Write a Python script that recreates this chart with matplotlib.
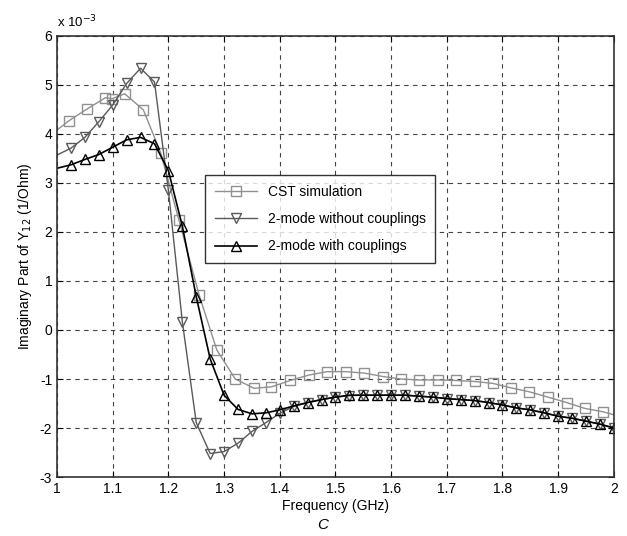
import numpy as np
import matplotlib
matplotlib.use("Agg")
import matplotlib.pyplot as plt

plt.rcParams['font.family'] = ['Liberation Sans', 'DejaVu Sans']
plt.rcParams['axes.unicode_minus'] = False

# CST simulation (non-uniform frequency points)
cst_f = [1.0, 1.0215, 1.054, 1.087, 1.099, 1.1215, 1.155, 1.186, 1.219, 1.255,
         1.287, 1.320, 1.354, 1.385, 1.419, 1.452, 1.485, 1.519, 1.552, 1.586,
         1.618, 1.650, 1.685, 1.716, 1.750, 1.783, 1.815, 1.848, 1.882, 1.915,
         1.948, 1.981, 2.0]
cst_y = [4.08, 4.27, 4.51, 4.74, 4.72, 4.82, 4.49, 3.62, 2.24, 0.72,
         -0.41, -1.00, -1.19, -1.16, -1.03, -0.92, -0.85, -0.85, -0.88, -0.95,
         -1.00, -1.02, -1.02, -1.03, -1.05, -1.09, -1.18, -1.26, -1.37, -1.48,
         -1.60, -1.67, -1.73]

# 2-mode models, 0.025 GHz steps from 1.0 to 2.0
mode_f = [1.0, 1.025, 1.05, 1.075, 1.1, 1.125, 1.15, 1.175, 1.2, 1.225,
          1.25, 1.275, 1.3, 1.325, 1.35, 1.375, 1.4, 1.425, 1.45, 1.475,
          1.5, 1.525, 1.55, 1.575, 1.6, 1.625, 1.65, 1.675, 1.7, 1.725,
          1.75, 1.775, 1.8, 1.825, 1.85, 1.875, 1.9, 1.925, 1.95, 1.975, 2.0]
no_coup = [3.57, 3.71, 3.93, 4.25, 4.59, 5.03, 5.34, 5.06, 2.85, 0.17,
           -1.89, -2.52, -2.48, -2.31, -2.07, -1.89, -1.70, -1.56, -1.48, -1.42,
           -1.37, -1.34, -1.33, -1.33, -1.33, -1.33, -1.35, -1.37, -1.40, -1.42,
           -1.44, -1.48, -1.53, -1.59, -1.63, -1.69, -1.76, -1.80, -1.86, -1.92, -2.00]
with_coup = [3.30, 3.37, 3.48, 3.58, 3.73, 3.88, 3.93, 3.80, 3.25, 2.12,
             0.68, -0.59, -1.33, -1.62, -1.71, -1.69, -1.63, -1.55, -1.48, -1.42,
             -1.37, -1.33, -1.33, -1.33, -1.33, -1.33, -1.35, -1.37, -1.40, -1.42,
             -1.44, -1.48, -1.53, -1.59, -1.63, -1.69, -1.76, -1.80, -1.86, -1.92, -2.00]

fig = plt.figure(figsize=(6.27, 5.36), dpi=100)
ax = fig.add_axes([0.091, 0.110, 0.888, 0.823])

ax.plot(cst_f, cst_y, color='#909090', lw=1.0, marker='s', ms=6.5,
        mfc='none', mec='#909090', mew=1.0, markevery=slice(1, -1),
        label='CST simulation')
ax.plot(mode_f, no_coup, color='#5a5a5a', lw=1.0, marker='v', ms=7,
        mfc='none', mec='#5a5a5a', mew=1.0, markevery=slice(1, None),
        label='2-mode without couplings')
ax.plot(mode_f, with_coup, color='black', lw=1.2, marker='^', ms=7,
        mfc='none', mec='black', mew=1.0, markevery=slice(1, None),
        label='2-mode with couplings')

ax.set_xlim(1, 2)
ax.set_ylim(-3, 6)
ax.set_xticks(np.arange(1, 2.01, 0.1))
ax.set_xticklabels(['1', '1.1', '1.2', '1.3', '1.4', '1.5', '1.6', '1.7', '1.8', '1.9', '2'])
ax.set_yticks(range(-3, 7))
ax.grid(True, linestyle=(0, (4, 4)), color='#444444', lw=0.8)
ax.tick_params(direction='in', labelsize=10, length=4, top=True, right=True)
for s in ax.spines.values():
    s.set_linewidth(1.2)
    s.set_color('#333333')

ax.set_xlabel('Frequency (GHz)', fontsize=10, labelpad=2)
ax.set_ylabel('Imaginary Part of Y$_{12}$ (1/Ohm)', fontsize=10)
ax.text(0.0, 1.012, r'x 10$^{-3}$', transform=ax.transAxes, fontsize=9.5,
        ha='left', va='bottom')

leg = ax.legend(loc='upper left', bbox_to_anchor=(0.266, 0.684), fontsize=10,
                frameon=True, fancybox=False, edgecolor='black',
                handlelength=3, borderpad=0.7, labelspacing=0.95,
                borderaxespad=0)
leg.get_frame().set_linewidth(1.0)

fig.text(0.515, 0.008, 'C', fontsize=11, style='italic', ha='center', va='bottom')

fig.savefig('out.png', dpi=100)
